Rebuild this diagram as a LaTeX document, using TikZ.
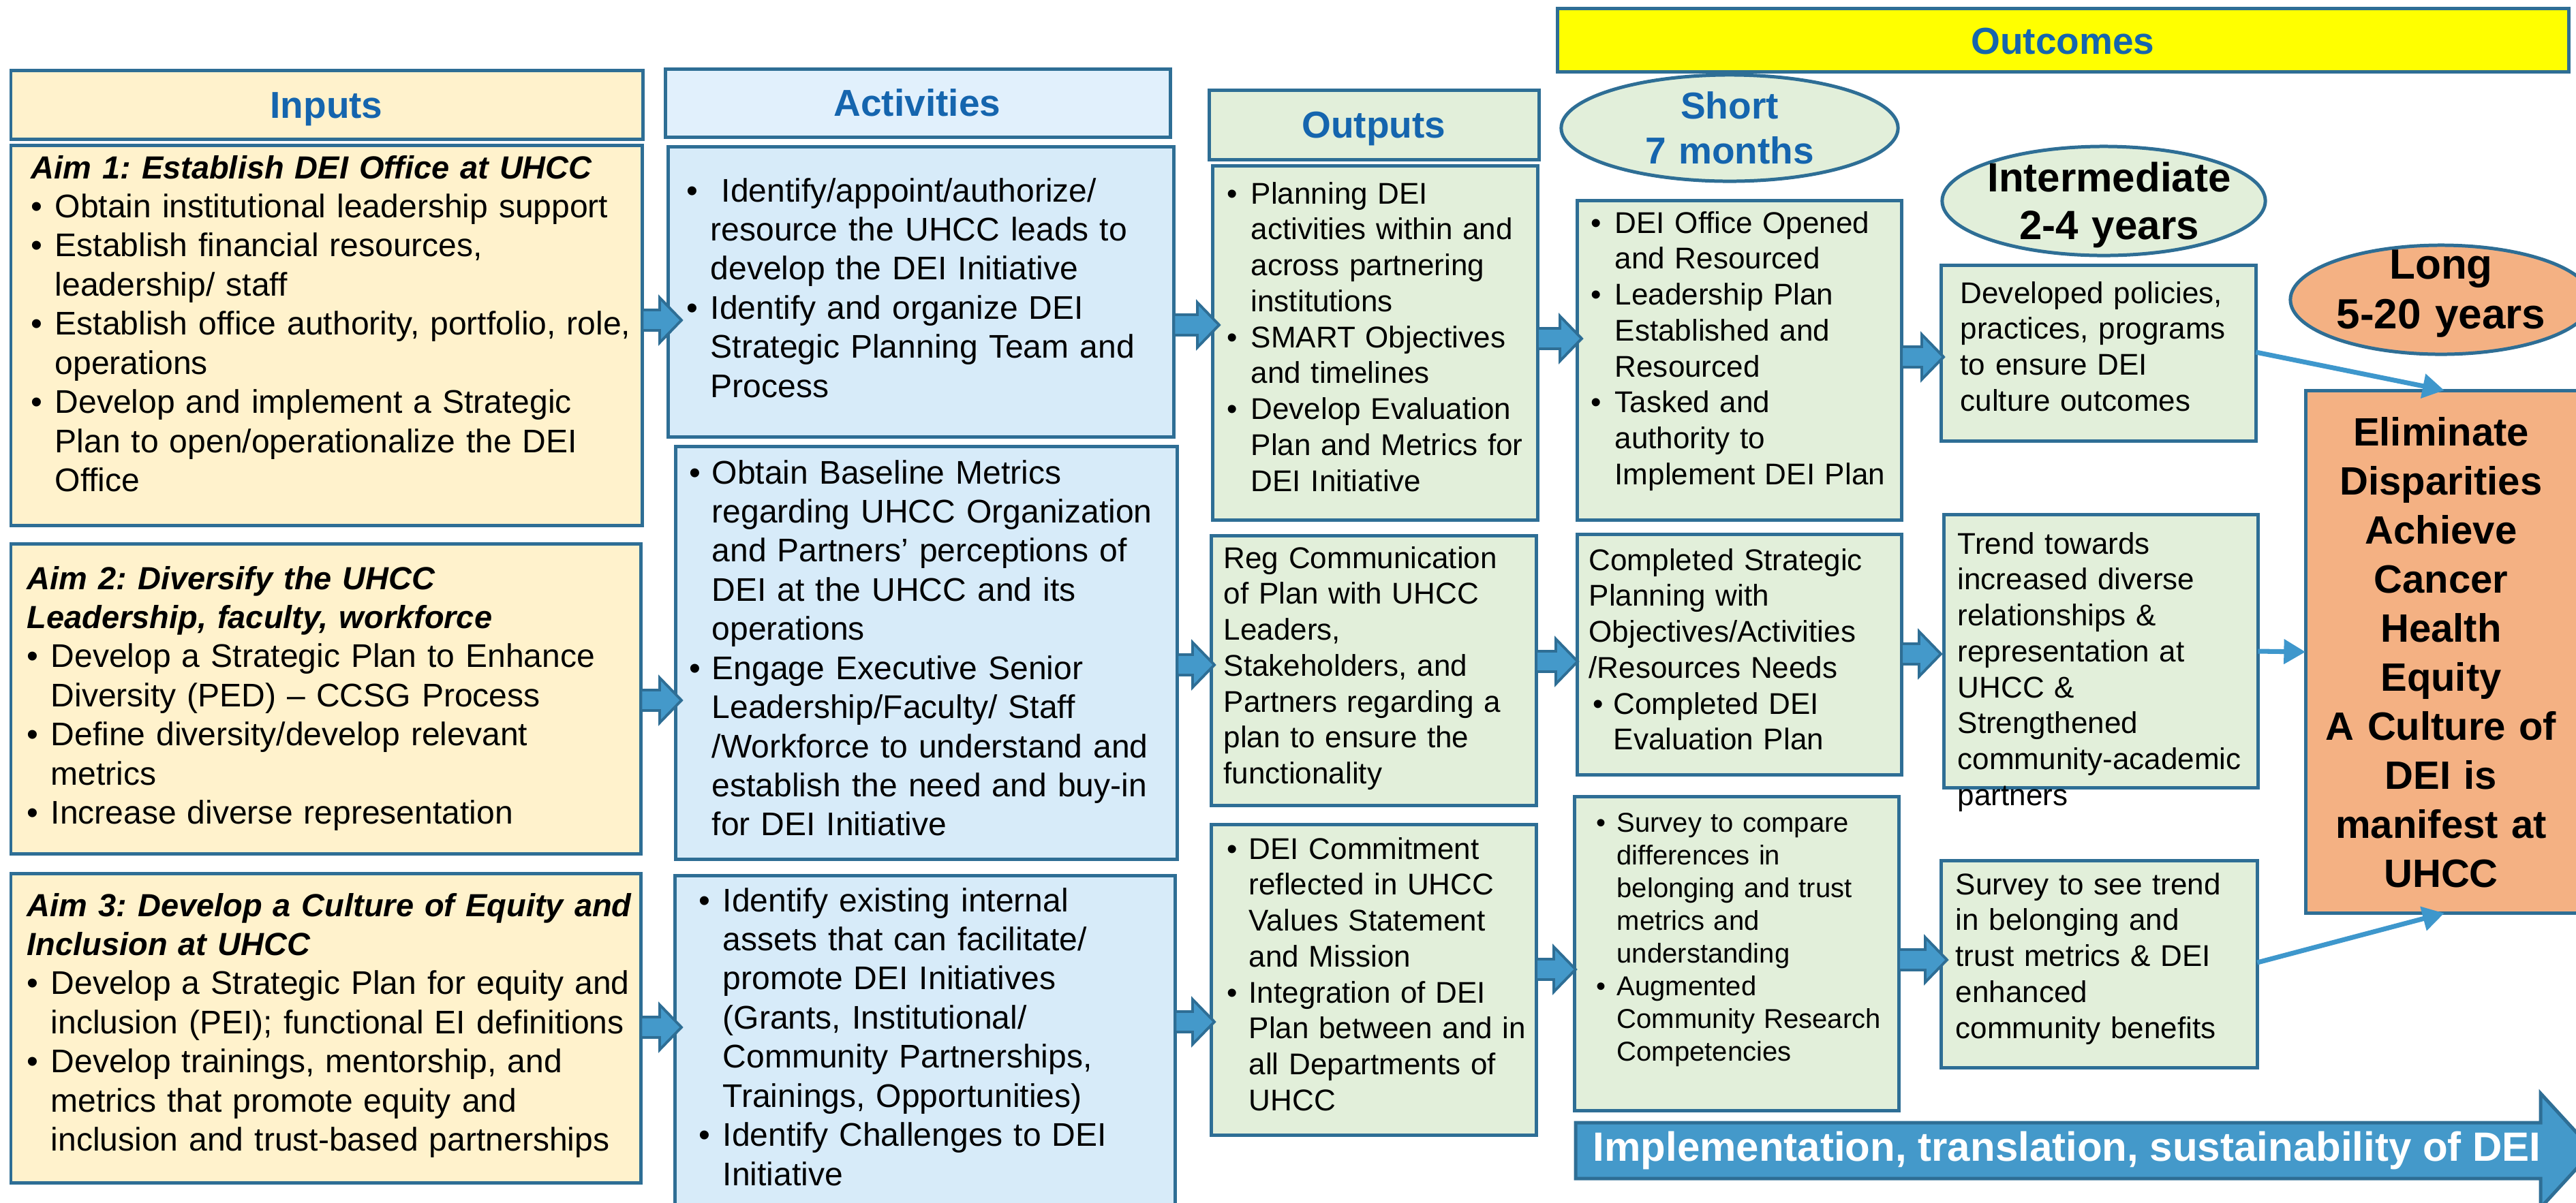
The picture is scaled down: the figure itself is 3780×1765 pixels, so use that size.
\documentclass[tikz,border=0pt]{standalone}
\usepackage{fontspec}
\setmainfont{Liberation Sans}
\usetikzlibrary{arrows.meta,shapes.geometric,calc}
\frenchspacing
\definecolor{bord}{HTML}{2E6E95}
\definecolor{beige}{HTML}{FFF2CC}
\definecolor{actH}{HTML}{E1F0FC}
\definecolor{actB}{HTML}{D7EBF9}
\definecolor{grn}{HTML}{E2EFDA}
\definecolor{hblue}{HTML}{1565AE}
\definecolor{arr}{HTML}{4499CA}
\definecolor{lnarr}{HTML}{3E97CC}
\definecolor{salmon}{HTML}{F4B183}
\definecolor{yel}{HTML}{FFFF00}
\newlength\pxu \setlength\pxu{0.01cm}
\newlength\bind
\newcommand\B[1]{\noindent\makebox[\bind][l]{\textbullet}#1\par}
\newcommand\C[1]{\noindent\hspace*{\bind}#1\par}
\newcommand\T[1]{\noindent #1\par}
\newcommand\aimt[1]{{\fontsize{13.35pt}{16.33pt}\selectfont\bfseries\itshape #1}}
\newcommand\fsA{\fontsize{13.66pt}{16.33pt}\selectfont\frenchspacing}
\newcommand\fsB{\fontsize{12.52pt}{15.0pt}\selectfont\frenchspacing}
\newcommand\fsC{\fontsize{11.38pt}{13.66pt}\selectfont\frenchspacing}
\newcommand\fsH{\fontsize{15.65pt}{18.78pt}\selectfont\bfseries}
\newcommand\barrow[4]{%
  \path (#1.east |- 0,#3) coordinate (s) (#2.west |- 0,#3) coordinate (t);
  \filldraw[barr] ($(s)+(0,-15)$) -- ($(t)+(#4-32,-15)$) -- ($(t)+(#4-32,-33)$) -- ($(t)+(#4,0)$)
    -- ($(t)+(#4-32,33)$) -- ($(t)+(#4-32,15)$) -- ($(s)+(0,15)$) -- cycle;}
\begin{document}
\begin{tikzpicture}[x=0.01cm,y=-0.01cm,
  box/.style={draw=bord, line width=1.42pt, rectangle, inner sep=0, outer sep=0, anchor=north west},
  ell/.style={draw=bord, line width=1.42pt, ellipse, inner sep=0, outer sep=0},
  txt/.style={anchor=base west, inner sep=0, text width=12cm, align=left},
  htxt/.style={anchor=base, inner sep=0, text width=8cm, align=center, text=hblue, font=\fsH},
  barr/.style={fill=arr, draw=bord, line width=1.1pt, line join=miter},
  lnarrow/.style={draw=lnarr, line width=2pt, -{Triangle[length=9pt,width=10pt]}}]
\useasboundingbox (0,0) rectangle (3780,1765);
\clip (0,0) rectangle (3780,1765);

% headers
\node[box, fill=yel, minimum width=14.84cm, minimum height=0.93cm] (outc) at (2285,12) {};
\node[box, fill=beige, minimum width=9.27cm, minimum height=1.01cm] (inh) at (16,103) {};
\node[box, fill=actH, minimum width=7.41cm, minimum height=1.00cm] (ach) at (976,101) {};
\node[box, fill=grn, minimum width=4.84cm, minimum height=1.02cm] (ouh) at (1774,132) {};
\node[ell, fill=grn, minimum width=4.94cm, minimum height=1.56cm] (shortE) at (2538,188) {};
\node[ell, fill=grn, minimum width=4.74cm, minimum height=1.60cm] (intE) at (3087,295) {};
\node[ell, fill=salmon, minimum width=4.42cm, minimum height=1.60cm] (longE) at (3582,440) {};

\node[htxt] (outct) at (3027,79) {Outcomes};
\node[htxt] (inht) at (479,173) {Inputs};
\node[htxt] (acht) at (1346,170) {Activities};
\node[htxt] (ouht) at (2016,202) {Outputs};
\node[htxt] (shortt) at (2538,174) {Short\\7 months};
\node[htxt, text=black, font=\fontsize{17.07pt}{19.92pt}\selectfont\bfseries] (intt) at (3095,281) {Intermediate\\2-4 years};
\node[htxt, text=black, font=\fontsize{17.64pt}{20.77pt}\selectfont\bfseries] (longt) at (3582,409) {Long\\5-20 years};

% boxes
\node[box, fill=beige, minimum width=9.26cm, minimum height=5.58cm] (aim1) at (16,213) {};
\node[box, fill=beige, minimum width=9.24cm, minimum height=4.55cm] (aim2) at (16,798) {};
\node[box, fill=beige, minimum width=9.24cm, minimum height=4.54cm] (aim3) at (16,1282) {};
\node[box, fill=actB, minimum width=7.42cm, minimum height=4.26cm] (act1) at (980,215) {};
\node[box, fill=actB, minimum width=7.36cm, minimum height=6.06cm] (act2) at (991,655) {};
\node[box, fill=actB, minimum width=7.34cm, minimum height=5.00cm] (act3) at (990,1285) {};
\node[box, fill=grn, minimum width=4.77cm, minimum height=5.20cm] (out1) at (1779,243) {};
\node[box, fill=grn, minimum width=4.77cm, minimum height=3.96cm] (out2) at (1777,786) {};
\node[box, fill=grn, minimum width=4.77cm, minimum height=4.56cm] (out3) at (1777,1210) {};
\node[box, fill=grn, minimum width=4.76cm, minimum height=4.69cm] (sh1) at (2314,294) {};
\node[box, fill=grn, minimum width=4.76cm, minimum height=3.53cm] (sh2) at (2314,784) {};
\node[box, fill=grn, minimum width=4.76cm, minimum height=4.61cm] (sh3) at (2310,1169) {};
\node[box, fill=grn, minimum width=4.62cm, minimum height=2.58cm] (int1) at (2848,389) {};
\node[box, fill=grn, minimum width=4.61cm, minimum height=4.01cm] (int2) at (2852,755) {};
\node[box, fill=grn, minimum width=4.64cm, minimum height=3.04cm] (int3) at (2848,1263) {};
\node[box, fill=salmon, minimum width=4.07cm, minimum height=7.67cm] (final) at (3383,573) {};

% texts
\node[txt, font=\fsA] (aim1t) at (45,262) {\setlength\bind{35\pxu}%
\T{\aimt{Aim 1: Establish DEI Office at UHCC}}%
\B{Obtain institutional leadership support}%
\B{Establish financial resources,}%
\C{leadership/ staff}%
\B{Establish office authority, portfolio, role,}%
\C{operations}%
\B{Develop and implement a Strategic}%
\C{Plan to open/operationalize the DEI}%
\C{Office}};
\node[txt, font=\fsA] (aim2t) at (39,865) {\setlength\bind{35\pxu}%
\T{\aimt{Aim 2: Diversify the UHCC}}%
\T{\aimt{Leadership, faculty, workforce}}%
\B{Develop a Strategic Plan to Enhance}%
\C{Diversity (PED) – CCSG Process}%
\B{Define diversity/develop relevant}%
\C{metrics}%
\B{Increase diverse representation}};
\node[txt, font=\fsA] (aim3t) at (39,1345) {\setlength\bind{35\pxu}%
\T{\aimt{Aim 3: Develop a Culture of Equity and}}%
\T{\aimt{Inclusion at UHCC}}%
\B{Develop a Strategic Plan for equity and}%
\C{inclusion (PEI); functional EI definitions}%
\B{Develop trainings, mentorship, and}%
\C{metrics that promote equity and}%
\C{inclusion and trust-based partnerships}};
\node[txt, font=\fsA] (act1t) at (1007,296) {\setlength\bind{35\pxu}%
\B{\ Identify/appoint/authorize/}%
\C{resource the UHCC leads to}%
\C{develop the DEI Initiative}%
\B{Identify and organize DEI}%
\C{Strategic Planning Team and}%
\C{Process}};
\node[txt, font=\fsA] (act2t) at (1011,710) {\setlength\bind{33\pxu}%
\B{Obtain Baseline Metrics}%
\C{regarding UHCC Organization}%
\C{and Partners’ perceptions of}%
\C{DEI at the UHCC and its}%
\C{operations}%
\B{Engage Executive Senior}%
\C{Leadership/Faculty/ Staff}%
\C{/Workforce to understand and}%
\C{establish the need and buy-in}%
\C{for DEI Initiative}};
\node[txt, font=\fsA] (act3t) at (1025,1338) {\setlength\bind{35\pxu}%
\B{Identify existing internal}%
\C{assets that can facilitate/}%
\C{promote DEI Initiatives}%
\C{(Grants, Institutional/}%
\C{Community Partnerships,}%
\C{Trainings, Opportunities)}%
\B{Identify Challenges to DEI}%
\C{Initiative}};
\node[txt, font=\fsB] (out1t) at (1800,299) {\setlength\bind{35\pxu}%
\B{Planning DEI}%
\C{activities within and}%
\C{across partnering}%
\C{institutions}%
\B{SMART Objectives}%
\C{and timelines}%
\B{Develop Evaluation}%
\C{Plan and Metrics for}%
\C{DEI Initiative}};
\node[txt, font=\fsB] (out2t) at (1795,834) {%
\T{Reg Communication}%
\T{of Plan with UHCC}%
\T{Leaders,}%
\T{Stakeholders, and}%
\T{Partners regarding a}%
\T{plan to ensure the}%
\T{functionality}};
\node[txt, font=\fsB] (out3t) at (1800,1261) {\setlength\bind{32\pxu}%
\B{DEI Commitment}%
\C{reflected in UHCC}%
\C{Values Statement}%
\C{and Mission}%
\B{Integration of DEI}%
\C{Plan between and in}%
\C{all Departments of}%
\C{UHCC}};
\node[txt, font=\fsB] (sh1t) at (2334,342) {\setlength\bind{35\pxu}%
\B{DEI Office Opened}%
\C{and Resourced}%
\B{Leadership Plan}%
\C{Established and}%
\C{Resourced}%
\B{Tasked and}%
\C{authority to}%
\C{Implement DEI Plan}};
\node[txt, font=\fsB] (sh2t) at (2331,837) {\setlength\bind{36\pxu}%
\T{Completed Strategic}%
\T{Planning with}%
\T{Objectives/Activities}%
\T{/Resources Needs}%
\T{\hspace*{6\pxu}\makebox[30\pxu][l]{\textbullet}Completed DEI}%
\C{Evaluation Plan}};
\node[txt, font=\fsC] (sh3t) at (2342,1221) {\setlength\bind{30\pxu}%
\B{Survey to compare}%
\C{differences in}%
\C{belonging and trust}%
\C{metrics and}%
\C{understanding}%
\B{Augmented}%
\C{Community Research}%
\C{Competencies}};
\node[txt, font=\fsB] (int1t) at (2876,445) {%
\T{Developed policies,}%
\T{practices, programs}%
\T{to ensure DEI}%
\T{culture outcomes}};
\node[txt, font=\fsB] (int2t) at (2872,813) {%
\T{Trend towards}%
\T{increased diverse}%
\T{relationships \&}%
\T{representation at}%
\T{UHCC \&}%
\T{Strengthened}%
\T{community-academic}%
\T{partners}};
\node[txt, font=\fsB] (int3t) at (2869,1313) {%
\T{Survey to see trend}%
\T{in belonging and}%
\T{trust metrics \& DEI}%
\T{enhanced}%
\T{community benefits}};
\node[anchor=base, inner sep=0, text width=4cm, align=center, font=\fontsize{16.5pt}{20.49pt}\selectfont\bfseries] (finalt) at (3582,654)
 {Eliminate\\Disparities\\Achieve\\Cancer\\Health\\Equity\\A Culture of\\DEI is\\manifest at\\UHCC};

% block arrows
\barrow{aim1}{act1}{470}{20}
\barrow{aim2}{act2}{1028}{9}
\barrow{aim3}{act3}{1508}{10}
\barrow{act1}{out1}{477}{10}
\barrow{act2}{out2}{976}{5}
\barrow{act3}{out3}{1500}{5}
\barrow{out1}{sh1}{497}{7}
\barrow{out2}{sh2}{971}{1}
\barrow{out3}{sh3}{1423}{2}
\barrow{sh1}{int1}{524}{4}
\barrow{sh2}{int2}{960}{-4}
\barrow{sh3}{int3}{1409}{9}

% line arrows
\draw[lnarrow] (int1.east |- 0,517) -- (final.north);
\draw[lnarrow] (int2.east |- 0,956) -- (final.west |- 0,957);
\draw[lnarrow] (int3.east |- 0,1413) -- (final.south);

% bottom banner arrow
\filldraw[fill=arr, draw=bord, line width=1.42pt, line join=miter]
  (2312,1648) -- (3728,1648) -- (3728,1605) -- (3805,1689) -- (3728,1773) -- (3728,1730) -- (2312,1730) -- cycle;
\node[anchor=base west, inner sep=0, text=white, font=\fontsize{17.07pt}{20pt}\selectfont\bfseries] (impl) at (2337,1704)
 {Implementation, translation, sustainability of DEI};
\end{tikzpicture}
\end{document}
